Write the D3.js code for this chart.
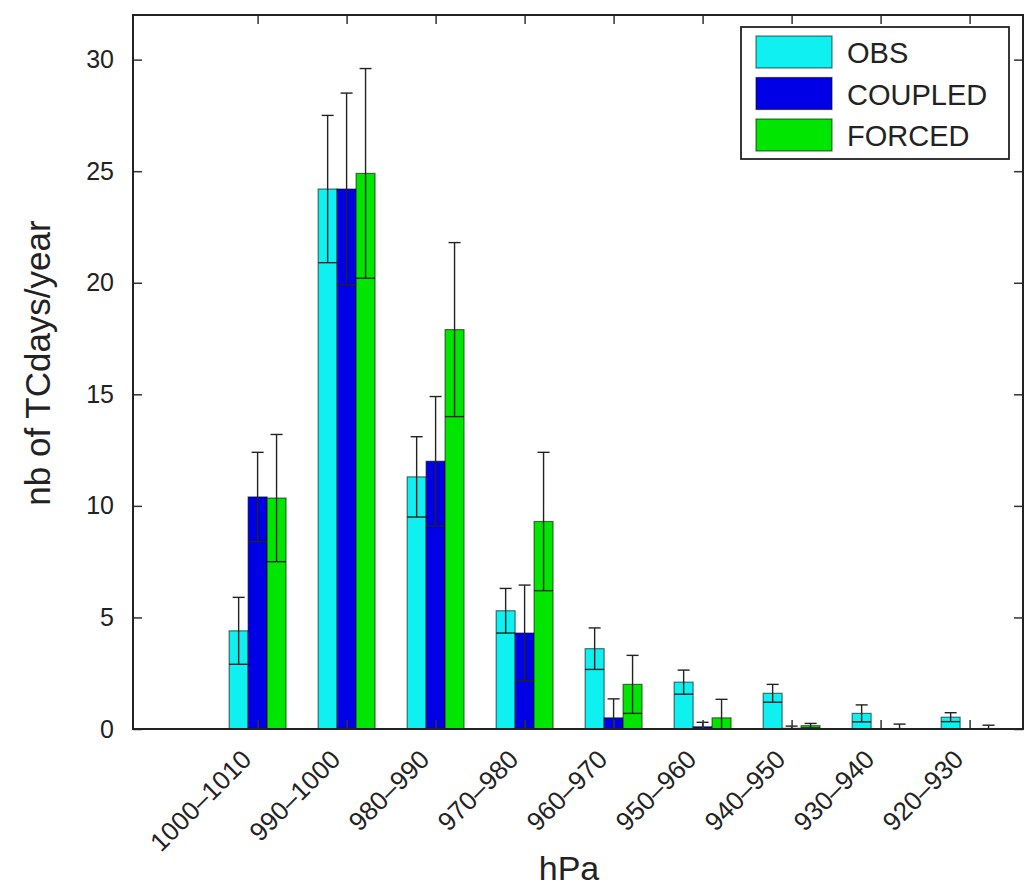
<!DOCTYPE html>
<html>
<head>
<meta charset="utf-8">
<script src="https://cdn.jsdelivr.net/npm/d3@7"></script>
<style>
  body { margin: 0; background: #fff; }
  svg { display: block; font-family: "Liberation Sans", Arial, Helvetica, sans-serif; }
</style>
</head>
<body>
<div id="chart"></div>
<script>
// pressure bins (hPa)
var categories = ['1000\u20131010', '990\u20131000', '980\u2013990', '970\u2013980', '960\u2013970',
                  '950\u2013960', '940\u2013950', '930\u2013940', '920\u2013930'];

var seriesNames = ['OBS', 'COUPLED', 'FORCED'];
var seriesColors = ['#0ff0f0', '#0000e6', '#00e600'];

// nb of TC days per year, and the error bar half-length
var obs        = [4.4, 24.2, 11.3, 5.3, 3.6, 2.1, 1.6, 0.7, 0.53];
var obsErr     = [1.5, 3.3, 1.8, 1.0, 0.93, 0.54, 0.4, 0.38, 0.2];
var coupled    = [10.4, 24.2, 12.0, 4.3, 0.5, 0.1, 0.03, 0, 0];
var coupledErr = [2.0, 4.3, 2.9, 2.15, 0.85, 0.2, 0.1, 0, 0];
var forced     = [10.35, 24.9, 17.9, 9.3, 2.0, 0.5, 0.15, 0.02, 0.02];
var forcedErr  = [2.85, 4.7, 3.9, 3.1, 1.3, 0.83, 0.1, 0.2, 0.15];

var yTicks = [0, 5, 10, 15, 20, 25, 30];

var width = 1031, height = 888;
var plotL = 133, plotR = 1023, plotT = 15, plotB = 729;

var svg = d3.select('#chart').append('svg')
    .attr('width', width)
    .attr('height', height);

var x = d3.scaleLinear().domain([-1.4, 8.6]).range([plotL, plotR]);
var y = d3.scaleLinear().domain([0, 32]).range([plotB, plotT]);

var barW = x(0.213) - x(0);
var offsets = [-0.213, 0, 0.213];

// one flat list of bars from the series arrays
var values = [obs, coupled, forced];
var errs = [obsErr, coupledErr, forcedErr];
var bars = [];
categories.forEach(function (c, i) {
    for (var s = 0; s < 3; s++) {
        bars.push({ i: i, s: s, v: values[s][i], e: errs[s][i] });
    }
});

/* bars */
svg.append('g').selectAll('rect')
    .data(bars)
    .enter().append('rect')
    .attr('x', function (d) { return x(d.i + offsets[d.s]) - barW / 2; })
    .attr('y', function (d) { return y(d.v); })
    .attr('width', barW)
    .attr('height', function (d) { return y(0) - y(d.v); })
    .attr('fill', function (d) { return seriesColors[d.s]; })
    .attr('stroke', '#000')
    .attr('stroke-opacity', 0.55)
    .attr('stroke-width', 1.2);

/* error bars */
var eb = svg.append('g')
    .attr('stroke', '#222')
    .attr('stroke-width', 1.4)
    .selectAll('g')
    .data(bars.filter(function (d) { return d.e > 0; }))
    .enter().append('g');

eb.append('line')
    .attr('x1', function (d) { return x(d.i + offsets[d.s]); })
    .attr('x2', function (d) { return x(d.i + offsets[d.s]); })
    .attr('y1', function (d) { return y(Math.max(0, d.v - d.e)); })
    .attr('y2', function (d) { return y(d.v + d.e); });

eb.append('line')  // top cap
    .attr('x1', function (d) { return x(d.i + offsets[d.s]) - 6; })
    .attr('x2', function (d) { return x(d.i + offsets[d.s]) + 6; })
    .attr('y1', function (d) { return y(d.v + d.e); })
    .attr('y2', function (d) { return y(d.v + d.e); });

eb.append('line')  // lower cap, spans the bar
    .attr('x1', function (d) { return x(d.i + offsets[d.s]) - barW / 2; })
    .attr('x2', function (d) { return x(d.i + offsets[d.s]) + barW / 2; })
    .attr('y1', function (d) { return y(Math.max(0, d.v - d.e)); })
    .attr('y2', function (d) { return y(Math.max(0, d.v - d.e)); });

/* axes, ticks pointing inward */
var idx = d3.range(categories.length);

var yAxis = svg.append('g')
    .attr('transform', 'translate(' + plotL + ',0)')
    .call(d3.axisLeft(y).tickValues(yTicks).tickSize(-9).tickPadding(19));
yAxis.select('.domain').remove();
yAxis.selectAll('text').attr('font-size', 25).attr('fill', '#222');
yAxis.selectAll('line').attr('stroke', '#333').attr('stroke-width', 1.5);

var yAxisR = svg.append('g')
    .attr('transform', 'translate(' + plotR + ',0)')
    .call(d3.axisRight(y).tickValues(yTicks).tickSize(-9).tickFormat(''));
yAxisR.select('.domain').remove();
yAxisR.selectAll('line').attr('stroke', '#333').attr('stroke-width', 1.5);

var xAxisT = svg.append('g')
    .attr('transform', 'translate(0,' + plotT + ')')
    .call(d3.axisTop(x).tickValues(idx).tickSize(-9).tickFormat(''));
xAxisT.select('.domain').remove();
xAxisT.selectAll('line').attr('stroke', '#333').attr('stroke-width', 1.5);

var xAxis = svg.append('g')
    .attr('transform', 'translate(0,' + plotB + ')')
    .call(d3.axisBottom(x).tickValues(idx).tickSize(-9)
        .tickFormat(function (i) { return categories[i]; }));
xAxis.select('.domain').remove();
xAxis.selectAll('line').attr('stroke', '#333').attr('stroke-width', 1.5);
xAxis.selectAll('text')
    .attr('font-size', 26)
    .attr('fill', '#222')
    .attr('text-anchor', 'end')
    .attr('dy', 0)
    .attr('y', 0)
    .attr('transform', 'translate(-5,32) rotate(-45)');

/* frame */
svg.append('rect')
    .attr('x', plotL).attr('y', plotT)
    .attr('width', plotR - plotL).attr('height', plotB - plotT)
    .attr('fill', 'none')
    .attr('stroke', '#222')
    .attr('stroke-width', 2);

/* axis labels */
svg.append('text')
    .attr('x', 569).attr('y', 880)
    .attr('text-anchor', 'middle')
    .attr('font-size', 34)
    .attr('fill', '#222')
    .text('hPa');

svg.append('text')
    .attr('transform', 'translate(50,363) rotate(-90)')
    .attr('text-anchor', 'middle')
    .attr('font-size', 35)
    .attr('fill', '#222')
    .text('nb of TCdays/year');

/* legend */
var legend = svg.append('g');
legend.append('rect')
    .attr('x', 741).attr('y', 27)
    .attr('width', 268).attr('height', 132)
    .attr('fill', '#fff')
    .attr('stroke', '#222')
    .attr('stroke-width', 1.8);

var item = legend.selectAll('g.item')
    .data(seriesNames)
    .enter().append('g')
    .attr('class', 'item')
    .attr('transform', function (d, i) { return 'translate(756,' + (36 + i * 41.5) + ')'; });

item.append('rect')
    .attr('width', 76).attr('height', 32)
    .attr('fill', function (d, i) { return seriesColors[i]; })
    .attr('stroke', '#000')
    .attr('stroke-opacity', 0.55)
    .attr('stroke-width', 1.2);

item.append('text')
    .attr('x', 91).attr('y', 27)
    .attr('font-size', 29)
    .attr('fill', '#222')
    .text(function (d) { return d; });
</script>
</body>
</html>
